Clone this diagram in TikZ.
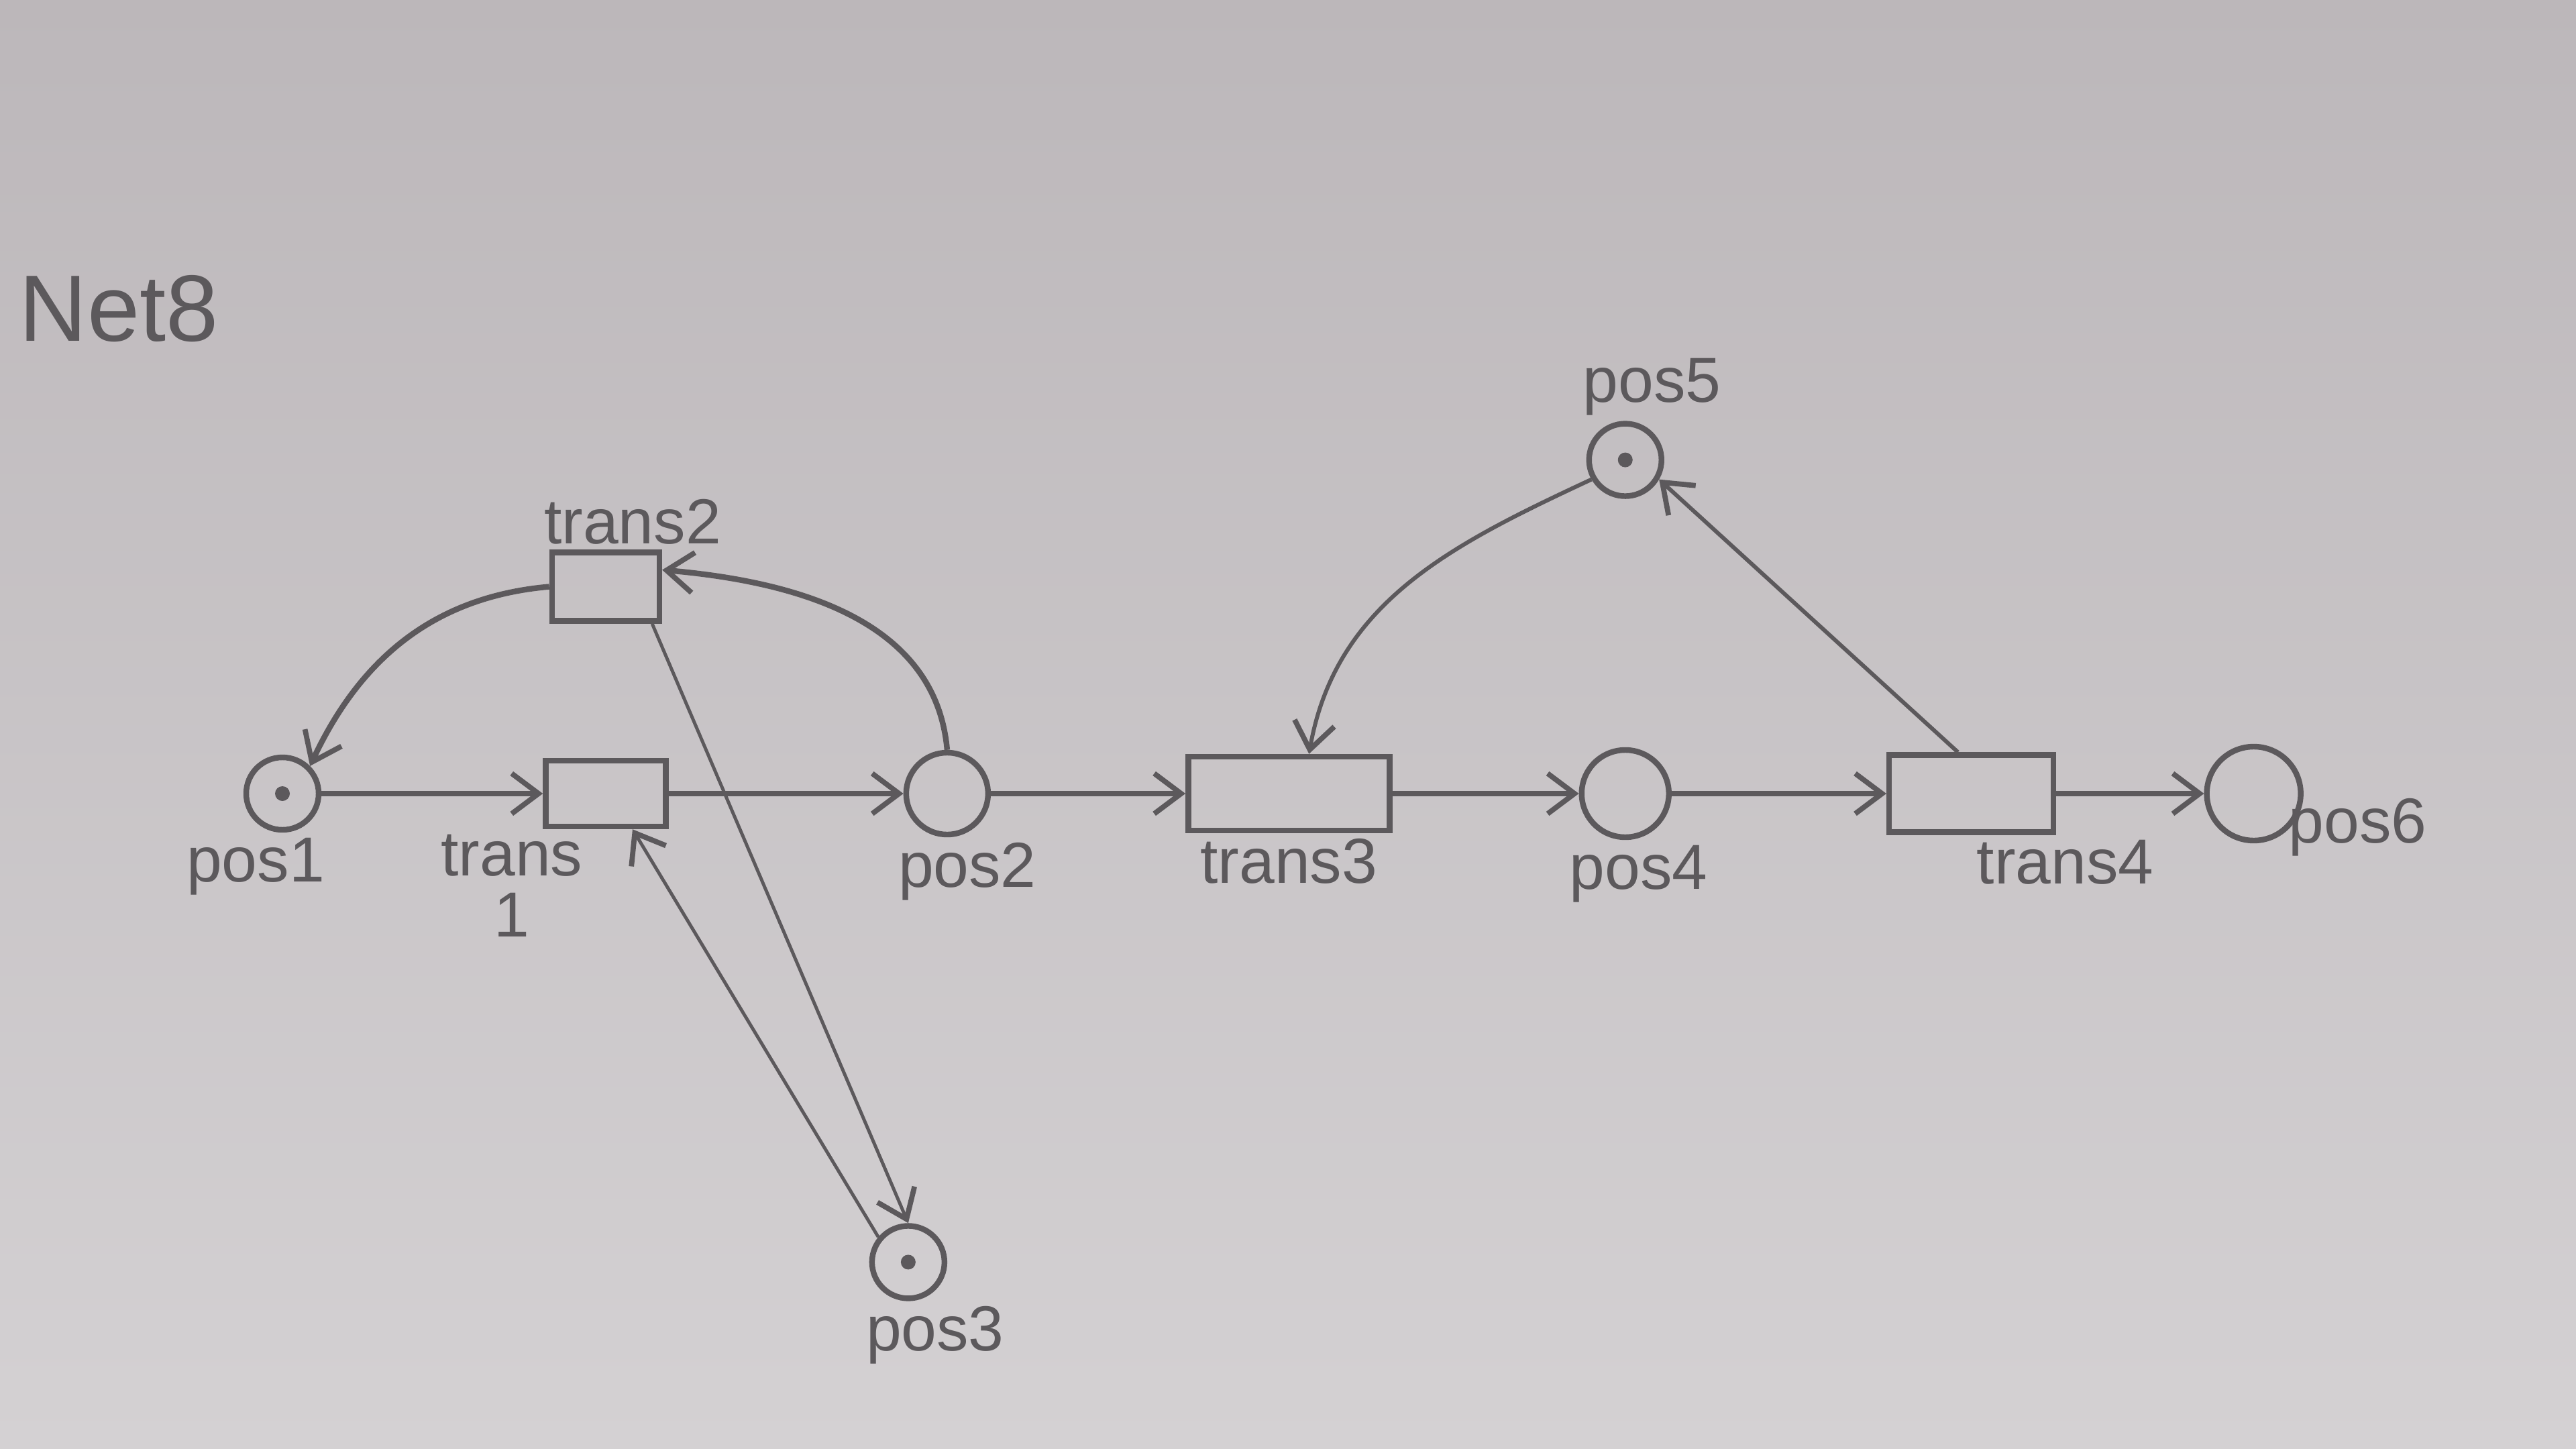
\documentclass[tikz,border=0pt]{standalone}
\usepackage{fontspec}
\setmainfont{Liberation Sans}
\usetikzlibrary{arrows.meta,positioning}
\definecolor{pencil}{RGB}{92,89,92}
\definecolor{papertop}{RGB}{188,183,186}
\definecolor{paperbottom}{RGB}{212,209,211}

\begin{document}
\begin{tikzpicture}[
  node distance=3cm,
  placenode/.style={circle,draw=pencil,line width=2.4pt,minimum size=1.15cm,inner sep=0pt},
  transnode/.style={draw=pencil,line width=2.4pt,minimum height=1.05cm,inner sep=0pt},
  flow/.style={-{Straight Barb[length=4mm,width=6mm,line width=2.2pt]},line width=2.4pt,pencil},
  token/.style={fill=pencil},
  every label/.style={font=\fontsize{27}{26}\selectfont,text=pencil,inner sep=2pt}
]
  \useasboundingbox (0,0) rectangle (38.4,-21.6);
  \shade[top color=papertop,bottom color=paperbottom] (0,0) rectangle (38.4,-21.6);
  \node[font=\fontsize{40}{44}\selectfont,text=pencil] (title) at (1.77,-4.60) {Net8};

  % main row
  \node[placenode,minimum size=1.08cm,label={[xshift=-4mm]below:pos1}] (pos1) at (4.21,-11.83) {};
  \node[transnode,minimum width=1.79cm,minimum height=0.98cm,right=3.3cm of pos1,
        label={[align=center,xshift=-14mm]below:trans\\1}] (t1) {};
  \node[placenode,minimum size=1.22cm,right=3.5cm of t1,label={[xshift=3mm]below:pos2}] (pos2) {};
  \node[transnode,minimum width=3cm,minimum height=1.1cm,right=2.9cm of pos2,label=below:trans3] (t3) {};
  \node[placenode,minimum size=1.3cm,right=2.78cm of t3,label={[xshift=2mm]below:pos4}] (pos4) {};
  \node[transnode,minimum width=2.45cm,minimum height=1.15cm,right=3.2cm of pos4,
        label={[xshift=14mm]below:trans4}] (t4) {};
  \node[placenode,minimum size=1.4cm,right=2.2cm of t4,
        label={[xshift=-3mm,yshift=-5mm]right:pos6}] (pos6) {};

  % off the row
  \node[transnode,minimum width=1.6cm,minimum height=1.02cm,above=2cm of t1,
        label={[xshift=4mm]above:trans2}] (t2) {};
  \node[placenode,minimum size=1.08cm,below=5.75cm of pos2,xshift=-5.8mm,
        label={[xshift=4mm]below:pos3}] (pos3) {};
  \node[placenode,minimum size=1.08cm,above=3.7cm of pos4,
        label={[xshift=4mm]above:pos5}] (pos5) {};

  % tokens
  \fill[token] (pos1.center) circle (1.1mm);
  \fill[token] (pos3.center) circle (1.1mm);
  \fill[token] (pos5.center) circle (1.1mm);

  \draw[flow] (pos1) -- (t1);
  \draw[flow] (t1) -- (pos2);
  \draw[flow] (pos2) -- (t3);
  \draw[flow] (t3) -- (pos4);
  \draw[flow] (pos4) -- (t4);
  \draw[flow] (t4) -- (pos6);
  \draw[flow] (pos2.north) to[out=95,in=-5] ([yshift=2.5mm]t2.east);
  \draw[flow] (t2.west) to[out=185,in=65] (pos1.north east);
  \draw[flow,line width=1.4pt] ([xshift=-1.5mm]t2.south east) -- (pos3.north);
  \draw[flow,line width=1.4pt] (pos3.140) -- ([xshift=4mm]t1.south);
  \draw[flow,line width=1.7pt] ([xshift=-2mm]t4.north) -- (pos5.-30);
  \draw[flow,line width=1.7pt] (pos5.210) to[out=205,in=80] ([xshift=3mm]t3.north);
\end{tikzpicture}
\end{document}
